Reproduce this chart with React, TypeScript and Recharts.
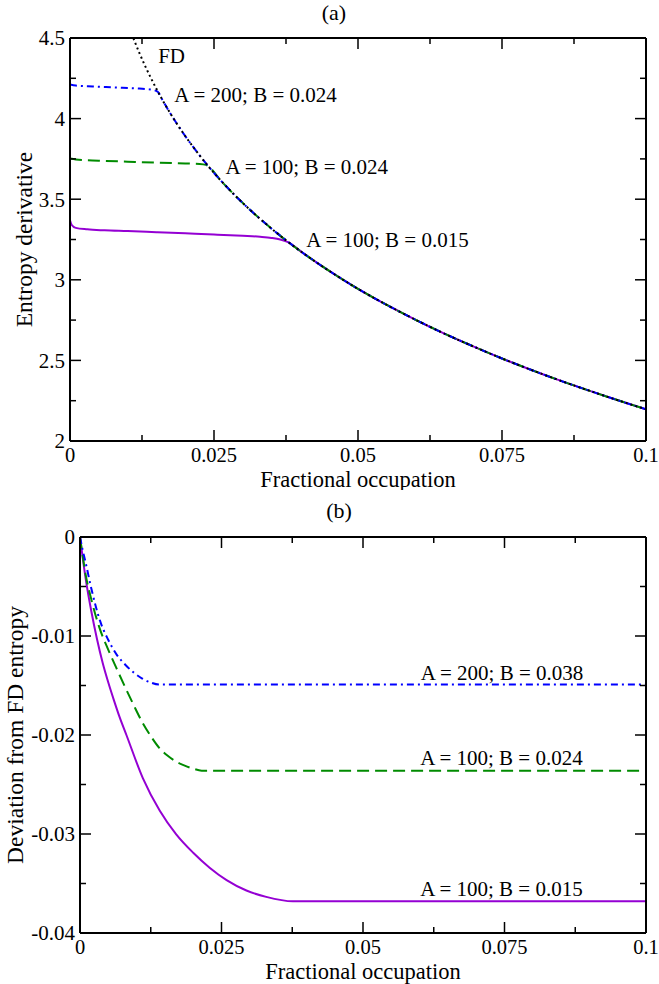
import React from "react";
import { LineChart, Line, XAxis, YAxis, ReferenceDot } from "recharts";

const FONT = "Liberation Serif, DejaVu Serif, serif";

// ---- panel (a): entropy derivative
const fdOcc = [0.011, 0.012, 0.013, 0.014, 0.015, 0.016, 0.017, 0.018, 0.019, 0.02, 0.022, 0.024, 0.026, 0.028, 0.03, 0.032, 0.034, 0.036, 0.038, 0.04, 0.045, 0.05, 0.055, 0.06, 0.065, 0.07, 0.075, 0.08, 0.085, 0.09, 0.095, 0.1];
const fdDeriv = [4.499, 4.411, 4.33, 4.255, 4.185, 4.119, 4.057, 3.999, 3.944, 3.892, 3.795, 3.705, 3.623, 3.547, 3.476, 3.41, 3.347, 3.288, 3.231, 3.178, 3.055, 2.944, 2.844, 2.752, 2.666, 2.587, 2.512, 2.442, 2.376, 2.314, 2.254, 2.197];

const a200Occ = [0, 0.001, 0.004, 0.008, 0.012, 0.014, 0.0152];
const a200Deriv = [4.212, 4.205, 4.199, 4.193, 4.186, 4.18, 4.168];
const a100b24Occ = [0, 0.001, 0.005, 0.01, 0.015, 0.02, 0.0225, 0.0236];
const a100b24Deriv = [3.752, 3.746, 3.739, 3.733, 3.727, 3.722, 3.719, 3.713];
const a100b15Occ = [0, 0.0003, 0.001, 0.003, 0.006, 0.01, 0.015, 0.02, 0.025, 0.03, 0.033, 0.035, 0.0365, 0.0375];
const a100b15Deriv = [3.37, 3.34, 3.322, 3.313, 3.307, 3.302, 3.295, 3.288, 3.281, 3.273, 3.267, 3.26, 3.25, 3.238];

// ---- panel (b): deviation from FD entropy
const devA200Occ = [0, 0.0005, 0.001, 0.002, 0.0035, 0.005, 0.0065, 0.008, 0.0095, 0.011, 0.0125, 0.014, 0.0155, 0.1];
const devA200 = [0, -0.0014, -0.0026, -0.0052, -0.0084, -0.0104, -0.0119, -0.0129, -0.0137, -0.0143, -0.0147, -0.0149, -0.0149, -0.0149];
const devB24Occ = [0, 0.001, 0.002, 0.0034, 0.005, 0.0064, 0.008, 0.0095, 0.011, 0.0125, 0.014, 0.0155, 0.017, 0.0185, 0.02, 0.0215, 0.023, 0.1];
const devB24 = [0, -0.0038, -0.0063, -0.0091, -0.0114, -0.0132, -0.0152, -0.017, -0.0187, -0.0201, -0.0213, -0.0221, -0.0227, -0.0231, -0.0234, -0.0236, -0.0236, -0.0236];
const devB15Occ = [0, 0.001, 0.002, 0.003, 0.004, 0.005, 0.006, 0.007, 0.0082, 0.0111, 0.0141, 0.017, 0.02, 0.0229, 0.0259, 0.0294, 0.0329, 0.0376, 0.1];
const devB15 = [0, -0.0042, -0.0075, -0.0103, -0.0127, -0.0147, -0.0165, -0.0182, -0.02, -0.02435, -0.02765, -0.03003, -0.03189, -0.0334, -0.03466, -0.03571, -0.03635, -0.0368, -0.0368];

// ---- ticks
const xTicks = [0, 0.0125, 0.025, 0.0375, 0.05, 0.0625, 0.075, 0.0875, 0.1];
const xTickLabels = ["0", "", "0.025", "", "0.05", "", "0.075", "", "0.1"];
const yTicksA = [2, 2.25, 2.5, 2.75, 3, 3.25, 3.5, 3.75, 4, 4.25, 4.5];
const yTickLabelsA = ["2", "", "2.5", "", "3", "", "3.5", "", "4", "", "4.5"];
const yTicksB = [-0.04, -0.035, -0.03, -0.025, -0.02, -0.015, -0.01, -0.005, 0];
const yTickLabelsB = ["-0.04", "", "-0.03", "", "-0.02", "", "-0.01", "", "0"];

// ---- annotations
const annotA = [
  { text: "FD", x: 0.0153, y: 4.345 },
  { text: "A = 200; B = 0.024", x: 0.0181, y: 4.101 },
  { text: "A = 100; B = 0.024", x: 0.027, y: 3.656 },
  { text: "A = 100; B = 0.015", x: 0.041, y: 3.205 },
];
const annotB = [
  { text: "A = 200; B = 0.038", x: 0.0602, y: -0.0144 },
  { text: "A = 100; B = 0.024", x: 0.0601, y: -0.023 },
  { text: "A = 100; B = 0.015", x: 0.0601, y: -0.0363 },
];

const pts = (xs: number[], ys: number[]) => xs.map((x, i) => ({ x, y: ys[i] }));
const fdPts = pts(fdOcc, fdDeriv);
const withFdTail = (xs: number[], ys: number[]) => [
  ...pts(xs, ys),
  ...fdPts.filter((p) => p.x > xs[xs.length - 1]),
];

const labelFor = (ticks: number[], labels: string[], v: number) => {
  const i = ticks.findIndex((t) => Math.abs(t - v) < 1e-9);
  return i >= 0 ? labels[i] : "";
};

const MAJOR = 11;
const MINOR = 6;

function makeXTick(side: "bottom" | "top", ticks: number[], labels: string[]) {
  return (p: any) => {
    const { x, y, payload } = p;
    const lab = labelFor(ticks, labels, payload.value);
    const len = lab ? MAJOR : MINOR;
    const dir = side === "bottom" ? -1 : 1;
    return (
      <g>
        <line x1={x} x2={x} y1={y} y2={y + dir * len} stroke="#000" strokeWidth={1.5} />
        {side === "bottom" && lab ? (
          <text x={x} y={y + 20.5} textAnchor="middle" fontFamily={FONT} fontSize={20.5} fill="#000">
            {lab}
          </text>
        ) : null}
      </g>
    );
  };
}

function makeYTick(side: "left" | "right", ticks: number[], labels: string[]) {
  return (p: any) => {
    const { x, y, payload } = p;
    const lab = labelFor(ticks, labels, payload.value);
    const len = lab ? MAJOR : MINOR;
    const dir = side === "left" ? 1 : -1;
    return (
      <g>
        <line x1={x} x2={x + dir * len} y1={y} y2={y} stroke="#000" strokeWidth={1.5} />
        {side === "left" && lab ? (
          <text x={x - 5} y={y} dy="0.35em" textAnchor="end" fontFamily={FONT} fontSize={21} fill="#000">
            {lab}
          </text>
        ) : null}
      </g>
    );
  };
}

function XTitle({ viewBox, text, dx = 0, dy, size }: any) {
  const { x, y, width } = viewBox;
  return (
    <text x={x + width / 2 + dx} y={y + dy} textAnchor="middle" fontFamily={FONT} fontSize={size} fill="#000">
      {text}
    </text>
  );
}

function YTitle({ viewBox, text, inset }: any) {
  const { x, y, width, height } = viewBox;
  const cx = x + width - inset;
  const cy = y + height / 2;
  return (
    <text x={cx} y={cy} transform={`rotate(-90 ${cx} ${cy})`} textAnchor="middle" fontFamily={FONT} fontSize={23.5} fill="#000">
      {text}
    </text>
  );
}

function Annot({ viewBox, text }: any) {
  return (
    <text x={viewBox.x} y={viewBox.y} fontFamily={FONT} fontSize={21} fill="#000">
      {text}
    </text>
  );
}

const axisLine = { stroke: "#000", strokeWidth: 2 };

function Frame({
  yTicks,
  yLabels,
  yDomain,
  leftWidth,
  bottomHeight,
  panel,
  yTitle,
  yTitleInset,
  panelDy,
}: any) {
  return [
    <XAxis
      key="xb"
      xAxisId="b"
      dataKey="x"
      type="number"
      domain={[0, 0.1]}
      ticks={xTicks}
      interval={0}
      allowDataOverflow
      height={bottomHeight}
      tickSize={0}
      tickMargin={0}
      tickLine={false}
      axisLine={axisLine}
      tick={makeXTick("bottom", xTicks, xTickLabels)}
      label={<XTitle text="Fractional occupation" dy={45.5} size={22.5} />}
    />,
    <XAxis
      key="xt"
      xAxisId="t"
      orientation="top"
      dataKey="x"
      type="number"
      domain={[0, 0.1]}
      ticks={xTicks}
      interval={0}
      allowDataOverflow
      height={2}
      tickSize={0}
      tickMargin={0}
      tickLine={false}
      axisLine={axisLine}
      tick={makeXTick("top", xTicks, xTickLabels)}
      label={<XTitle text={panel} dx={-24} dy={panelDy} size={22} />}
    />,
    <YAxis
      key="yl"
      yAxisId="l"
      type="number"
      domain={yDomain}
      ticks={yTicks}
      interval={0}
      allowDataOverflow
      width={leftWidth}
      tickSize={0}
      tickMargin={0}
      tickLine={false}
      axisLine={axisLine}
      tick={makeYTick("left", yTicks, yLabels)}
      label={<YTitle text={yTitle} inset={yTitleInset} />}
    />,
    <YAxis
      key="yr"
      yAxisId="r"
      orientation="right"
      type="number"
      domain={yDomain}
      ticks={yTicks}
      interval={0}
      allowDataOverflow
      width={2}
      tickSize={0}
      tickMargin={0}
      tickLine={false}
      axisLine={axisLine}
      tick={makeYTick("right", yTicks, yLabels)}
    />,
  ];
}

const lineProps = {
  xAxisId: "b",
  yAxisId: "l",
  dataKey: "y",
  type: "monotone" as const,
  dot: false,
  activeDot: false,
  strokeWidth: 2,
  isAnimationActive: false,
};

export default function App() {
  return (
    <div style={{ position: "absolute", left: 0, top: 0, width: 659, height: 984, background: "#fff" }}>
      <div style={{ position: "absolute", left: 0, top: 0 }}>
        <LineChart width={659} height={490} margin={{ top: 36, right: 11, bottom: 0, left: 0 }}>
          {Frame({
            yTicks: yTicksA,
            yLabels: yTickLabelsA,
            yDomain: [2, 4.5],
            leftWidth: 70,
            bottomHeight: 49,
            panel: "(a)",
            yTitle: "Entropy derivative",
            yTitleInset: 38,
            panelDy: -16,
          })}
          <Line {...lineProps} data={withFdTail(a100b15Occ, a100b15Deriv)} stroke="#9400d3" />
          <Line {...lineProps} data={withFdTail(a100b24Occ, a100b24Deriv)} stroke="#008b00" strokeDasharray="12 6" />
          <Line {...lineProps} data={withFdTail(a200Occ, a200Deriv)} stroke="#0000ff" strokeDasharray="7 4 2 4" />
          <Line {...lineProps} data={fdPts} stroke="#000" strokeDasharray="2 3" />
          {annotA.map((a) => (
            <ReferenceDot key={a.text + a.x} xAxisId="b" yAxisId="l" x={a.x} y={a.y} r={0} fill="none" stroke="none" label={<Annot text={a.text} />} />
          ))}
        </LineChart>
      </div>
      <div style={{ position: "absolute", left: 0, top: 490 }}>
        <LineChart width={659} height={494} margin={{ top: 45, right: 11, bottom: 0, left: 0 }}>
          {Frame({
            yTicks: yTicksB,
            yLabels: yTickLabelsB,
            yDomain: [-0.04, 0],
            leftWidth: 80,
            bottomHeight: 51,
            panel: "(b)",
            yTitle: "Deviation from FD entropy",
            yTitleInset: 57,
            panelDy: -17,
          })}
          <Line {...lineProps} data={pts(devB15Occ, devB15)} stroke="#9400d3" />
          <Line {...lineProps} data={pts(devB24Occ, devB24)} stroke="#008b00" strokeDasharray="12 6" />
          <Line {...lineProps} data={pts(devA200Occ, devA200)} stroke="#0000ff" strokeDasharray="7 4 2 4" />
          {annotB.map((a) => (
            <ReferenceDot key={a.text + a.y} xAxisId="b" yAxisId="l" x={a.x} y={a.y} r={0} fill="none" stroke="none" label={<Annot text={a.text} />} />
          ))}
        </LineChart>
      </div>
    </div>
  );
}
